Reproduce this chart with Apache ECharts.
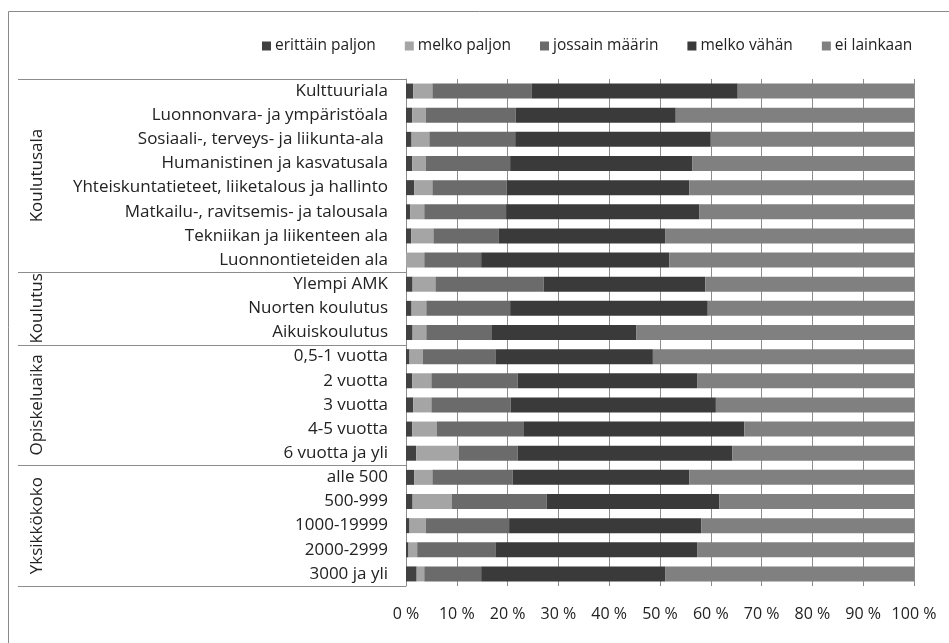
<!DOCTYPE html>
<html>
<head>
<meta charset="utf-8">
<script src="https://cdn.jsdelivr.net/npm/echarts@6/dist/echarts.min.js"></script>
<style>
html,body{margin:0;padding:0;background:#fff;}
#c{width:949px;height:643px;}
</style>
</head>
<body>
<div id="c"></div>
<script>
const categories = ["Kulttuuriala","Luonnonvara- ja ympäristöala","Sosiaali-, terveys- ja liikunta-ala ","Humanistinen ja kasvatusala","Yhteiskuntatieteet, liiketalous ja hallinto","Matkailu-, ravitsemis- ja talousala","Tekniikan ja liikenteen ala","Luonnontieteiden ala","Ylempi AMK","Nuorten koulutus","Aikuiskoulutus","0,5-1 vuotta","2 vuotta","3 vuotta","4-5 vuotta","6 vuotta ja yli","alle 500","500-999","1000-19999","2000-2999","3000 ja yli"];
const groupNames = ["Koulutusala","Koulutus","Opiskeluaika","Yksikkökoko"];
const groupSizes = [8,3,5,5];
const seriesNames = ["erittäin paljon","melko paljon","jossain määrin","melko vähän","ei lainkaan"];
const erittainPaljon = [1.4,1.2,1.1,1.2,1.6,0.8,1.0,0,1.3,1.1,1.3,0.7,1.2,1.4,1.2,2.0,1.6,1.3,0.7,0.5,2.1];
const melkoPaljon = [3.8,2.7,3.5,2.7,3.6,2.8,4.4,3.6,4.5,2.9,2.7,2.6,3.8,3.6,4.9,8.4,3.6,7.7,3.2,1.7,1.5];
const jossainMaarin = [19.5,17.7,16.9,16.6,14.6,16.1,12.8,11.2,21.3,16.5,12.8,14.3,17.0,15.6,17.0,11.6,15.8,18.7,16.4,15.4,11.2];
const melkoVahan = [40.6,31.5,38.5,35.9,36.0,38.0,32.8,37.0,31.8,38.9,28.5,31.0,35.3,40.4,43.5,42.2,34.8,34.0,37.8,39.7,36.2];
const eiLainkaan = [34.7,46.9,40.0,43.6,44.2,42.3,49.0,48.2,41.1,40.6,54.7,51.4,42.7,39.0,33.4,35.8,44.2,38.3,41.9,42.7,49.0];
const colors = ["#414141","#a5a5a5","#6b6b6b","#3a3a3a","#808080"];

const FONT = "'Open Sans', sans-serif";
const chart = echarts.init(document.getElementById('c'), null, {renderer:'canvas'});
const allData = [erittainPaljon, melkoPaljon, jossainMaarin, melkoVahan, eiLainkaan];
const option = {
  animation:false,
  backgroundColor:'#fff',
  textStyle:{fontFamily:FONT},
  legend:{
    data:seriesNames, left:257, top:33, width:690, itemWidth:9, itemHeight:9, itemGap:29,
    icon:'rect',
    textStyle:{fontFamily:FONT, fontSize:15.5, color:'#222', padding:[0,0,0,-1]}
  },
  grid:{left:406, right:35, top:79, bottom:57, containLabel:false},
  xAxis:{
    type:'value', min:0, max:100, interval:10,
    axisLabel:{formatter:'{value} %', fontFamily:FONT, fontSize:16, color:'#222', margin:20},
    axisLine:{show:false}, axisTick:{show:false},
    splitLine:{show:true, lineStyle:{color:'#8c8c8c', width:1}}
  },
  yAxis:{
    type:'category', data:categories, inverse:true,
    axisLabel:{fontFamily:FONT, fontSize:17, color:'#222', margin:18},
    axisLine:{show:true, lineStyle:{color:'#8c8c8c'}},
    axisTick:{show:false}
  },
  series: seriesNames.map((n,i)=>({
    name:n, type:'bar', stack:'total', data:allData[i], barWidth:15,
    itemStyle:{color:colors[i]}
  }))
};
chart.setOption(option);

function buildGraphic(){
  const y0 = chart.convertToPixel({yAxisIndex:0}, categories[0]);
  const y1 = chart.convertToPixel({yAxisIndex:0}, categories[1]);
  const band = y1 - y0;
  const x0 = chart.convertToPixel({xAxisIndex:0}, 0);
  const els = [];
  els.push({type:'rect', shape:{x:8.5, y:11.5, width:1000, height:1000}, style:{fill:null, stroke:'#8a8a8a', lineWidth:1}, silent:true});
  let idx = 0;
  const top = y0 - band/2;
  els.push({type:'line', shape:{x1:18, y1:Math.round(top)+0.5, x2:x0, y2:Math.round(top)+0.5}, style:{stroke:'#8c8c8c', lineWidth:1}});
  groupNames.forEach((g,gi)=>{
    const start = idx;
    idx += groupSizes[gi];
    const yStart = y0 - band/2 + start*band;
    const yEnd = y0 - band/2 + idx*band;
    els.push({type:'line', shape:{x1:18, y1:Math.round(yEnd)+0.5, x2:x0, y2:Math.round(yEnd)+0.5}, style:{stroke:'#8c8c8c', lineWidth:1}});
    els.push({type:'text', x:37, y:(yStart+yEnd)/2, rotation:Math.PI/2,
      style:{text:g, fill:'#222', font:'17px '+FONT, align:'center', verticalAlign:'middle'}});
  });
  chart.setOption({graphic:{elements:els}});
}
buildGraphic();
</script>
</body>
</html>
